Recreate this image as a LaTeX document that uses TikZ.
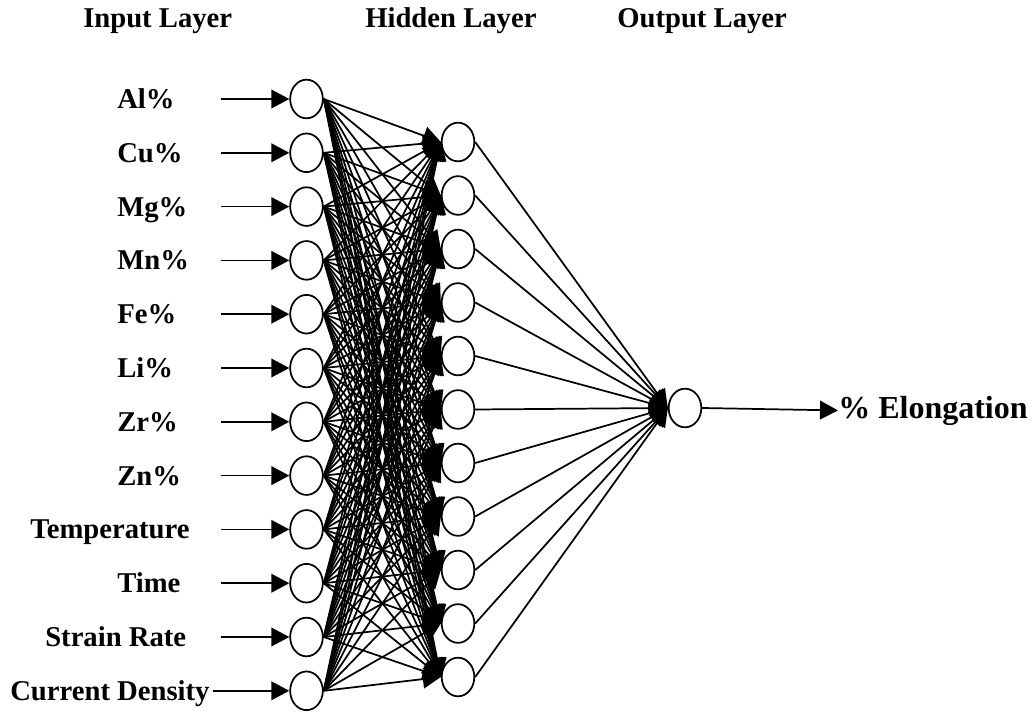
\documentclass[tikz,border=0pt]{standalone}
\usepackage{fontspec}
\setmainfont{Liberation Serif}
\usetikzlibrary{arrows.meta,shapes.geometric}

\begin{document}
\begin{tikzpicture}[x=0.75pt,y=-0.75pt,
    neuron/.style={draw,ellipse,line width=1.3pt,minimum width=24.5pt,minimum height=29pt,inner sep=0pt},
    lbl/.style={font=\fontsize{21.5}{24}\selectfont\bfseries,inner sep=0pt},
    feed/.style={line width=1.3pt,-{Triangle[length=13.5pt,width=14pt]}}]
        \useasboundingbox (0,0) rectangle (1034,712);
        % layer titles
        \node[lbl,anchor=base west] (ttlin) at (83,28) {Input Layer};
        \node[lbl,anchor=base west] (ttlhid) at (365,28) {Hidden Layer};
        \node[lbl,anchor=base west] (ttlout) at (617,28) {Output Layer};
        % input layer
        \foreach \name/\lx/\sx [count=\i from 0] in {Al\%/117/221,Cu\%/117/221,Mg\%/117/221,Mn\%/117/221,Fe\%/117/221,Li\%/117/221,Zr\%/117/221,Zn\%/117/221,Temperature/30/221,Time/117/221,Strain Rate/45/221,Current Density/10/213}
        {
          \node[neuron] (i\i) at (306.5,{99+53.8*\i}) {};
          \node[lbl,anchor=base west] (t\i) at (\lx,{108.5+53.8*\i}) {\name};
          \coordinate (s\i) at (\sx,{99+53.8*\i});
          \draw[feed] (s\i) -- (i\i);
        }
        % hidden and output layer
        \foreach \j in {0,...,10}
          \node[neuron] (h\j) at (458,{142+53.5*\j}) {};
        \node[neuron] (o) at (685,408) {};
        \foreach \i in {0,...,11}
          \foreach \j in {0,...,10}
            \draw[feed] (i\i.east) -- (h\j.west);
        \foreach \j in {0,...,10}
          \draw[feed] (h\j.east) -- (o.west);
        \node[lbl,font=\fontsize{24}{28}\selectfont\bfseries,anchor=base west] (elong) at (838,418) {\% Elongation};
        \draw[feed] (o.east) -- (elong.west);
      \end{tikzpicture}
\end{document}
